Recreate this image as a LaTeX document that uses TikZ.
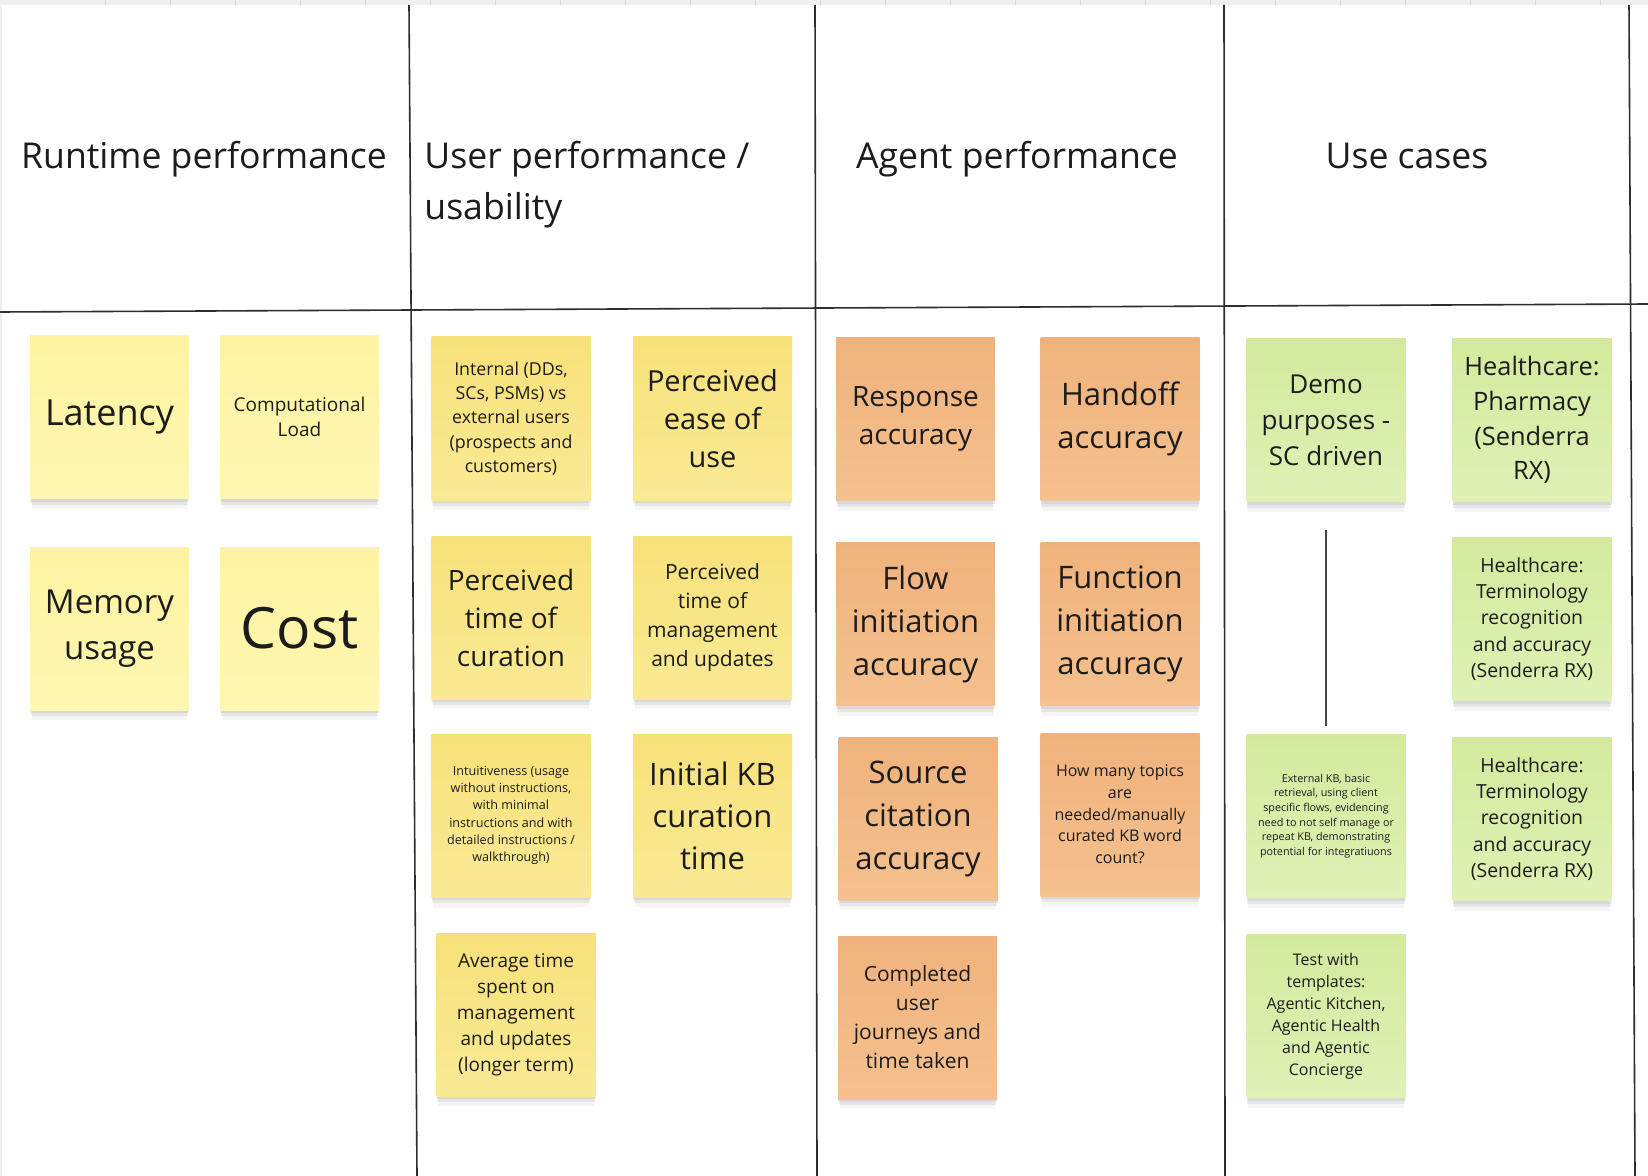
\documentclass[tikz,border=0pt]{standalone}
\usepackage{fontspec}
\setmainfont{Open Sans}
\usepackage{tikz}
\usetikzlibrary{positioning, shadows}
\definecolor{inkdark}{HTML}{1C1C1C}
\definecolor{lanegray}{HTML}{2E2E2E}
\definecolor{linkgray}{HTML}{474747}
\definecolor{stripgray}{HTML}{EFEFEF}
\definecolor{tickgray}{HTML}{D9D9D9}
\definecolor{lemontop}{HTML}{FEF3A2}
\definecolor{lemonbot}{HTML}{FFF7B2}
\definecolor{sunnytop}{HTML}{F7E17A}
\definecolor{sunnybot}{HTML}{FAEA95}
\definecolor{peachtop}{HTML}{EFB27C}
\definecolor{peachbot}{HTML}{F5C18F}
\definecolor{limetop}{HTML}{D3EA9E}
\definecolor{limebot}{HTML}{DFF1B5}
\newcommand{\fs}[2]{\fontsize{#1}{#2}\selectfont}
\tikzset{
  note/.style={
    minimum width=79.5pt, minimum height=81.5pt,
    inner sep=0pt, align=center, text=inkdark,
    drop shadow={fill=black, opacity=0.04, shadow xshift=0pt,
                 shadow yshift=-6pt, shadow scale=0.98},
    drop shadow={fill=black, opacity=0.06, shadow xshift=0pt,
                 shadow yshift=-3.5pt, shadow scale=0.99},
    drop shadow={fill=black, opacity=0.06, shadow xshift=0pt,
                 shadow yshift=-1.5pt},
  },
  lemon/.style={note, top color=lemontop, bottom color=lemonbot},
  sunny/.style={note, top color=sunnytop, bottom color=sunnybot},
  peach/.style={note, top color=peachtop, bottom color=peachbot},
  lime/.style={note, top color=limetop, bottom color=limebot},
  head/.style={font=\fs{17.8pt}{25.5pt}, text=inkdark, inner sep=0pt},
  lane/.style={draw=lanegray, line width=0.8pt},
  link/.style={draw=linkgray, line width=1.1pt},
}
\begin{document}
\begin{tikzpicture}[x=0.5pt, y=-0.5pt]

  \useasboundingbox (0,0) rectangle (1648,1176);
  \fill[white] (0,0) rectangle (1648,1176);

  % frame ruler
  \fill[stripgray] (0,0) rectangle (1648,5);
  \foreach \t in {0,...,24}
    \draw[tickgray, line width=0.5pt] (105+65*\t,0) -- ++(0,5);
  \draw[stripgray, line width=1pt] (1,5) -- (1,1176);

  % lanes
  \draw[lane] (0,312) -- (1648,304);
  \draw[lane] (409,5) -- (417,1176);
  \draw[lane] (815,5) -- (817,1176);
  \draw[lane] (1224,5) -- (1225,1176);
  \draw[lane] (1629,5) -- (1635,1176);

  % headers
  \node[head] (hruntime) at (204,159) {Runtime performance};
  \node[head, anchor=west, align=left] (huser) at (424,184.5)
    {User performance /\\usability};
  \node[head] (hagent) at (1017,159) {Agent performance};
  \node[head] (husecases) at (1407,156) {Use cases};

  % Runtime performance
  \node[lemon, font=\fs{18pt}{24pt}] (latency) at (109.5,417) {Latency};
  \node[lemon, font=\fs{9.5pt}{12.4pt}] (compload) at (299.5,417)
    {Computational\\Load};
  \node[lemon, font=\fs{16.5pt}{22.8pt}] (memory) at (109.5,628.5)
    {Memory\\usage};
  \node[lemon, font=\fs{28.5pt}{34pt}] (cost) at (299.5,628.5) {Cost};

  % User performance / usability
  \node[sunny, font=\fs{8.9pt}{12.15pt}] (internal) at (511,418.5)
    {Internal (DDs,\\SCs, PSMs) vs\\external users\\(prospects and\\customers)};
  \node[sunny, font=\fs{14.5pt}{19pt}] (ease) at (712.5,418.5)
    {Perceived\\ease of\\use};
  \node[sunny, font=\fs{14pt}{19pt}] (curation) at (511,617.5)
    {Perceived\\time of\\curation};
  \node[sunny, font=\fs{10.5pt}{14.5pt}] (mgmt) at (712.5,617.5)
    {Perceived\\time of\\management\\and updates};
  \node[sunny, font=\fs{6.3pt}{8.65pt}] (intuitive) at (511,815.5)
    {Intuitiveness (usage\\without instructions,\\with minimal\\instructions and with\\detailed instructions /\\walkthrough)};
  \node[sunny, font=\fs{15.5pt}{21pt}] (initkb) at (712.5,815.5)
    {Initial KB\\curation\\time};
  \node[sunny, font=\fs{9.5pt}{13pt}] (avgtime) at (516,1014.5)
    {Average time\\spent on\\management\\and updates\\(longer term)};

  % Agent performance
  \node[peach, font=\fs{14pt}{19pt}] (response) at (915.5,419)
    {Response\\accuracy};
  \node[peach, font=\fs{15.5pt}{21.5pt}] (handoff) at (1120,419)
    {Handoff\\accuracy};
  \node[peach, font=\fs{15.5pt}{21.5pt}] (flow) at (915.5,624)
    {Flow\\initiation\\accuracy};
  \node[peach, font=\fs{15.5pt}{21.5pt}] (function) at (1120,624)
    {Function\\initiation\\accuracy};
  \node[peach, font=\fs{15.5pt}{21.5pt}] (citation) at (918,818.5)
    {Source\\citation\\accuracy};
  \node[peach, font=\fs{8pt}{10.85pt}] (topics) at (1120,814.5)
    {How many topics\\are\\needed/manually\\curated KB word\\count?};
  \node[peach, font=\fs{10.5pt}{14.5pt}] (journeys) at (917.5,1017.5)
    {Completed\\user\\journeys and\\time taken};

  % Use cases
  \node[lime, font=\fs{13pt}{18pt}] (demo) at (1326,420)
    {Demo\\purposes -\\SC driven};
  \node[lime, font=\fs{12.7pt}{17.4pt}] (pharmacy) at (1532,420)
    {Healthcare:\\Pharmacy\\(Senderra\\RX)};
  \node[lime, font=\fs{9.7pt}{13.2pt}] (termA) at (1532,619)
    {Healthcare:\\Terminology\\recognition\\and accuracy\\(Senderra RX)};
  \node[lime, font=\fs{5.4pt}{7.35pt}] (extkb) at (1326,816)
    {External KB, basic\\retrieval, using client\\specific flows, evidencing\\need to not self manage or\\repeat KB, demonstrating\\potential for integratiuons};
  \node[lime, font=\fs{9.7pt}{13.2pt}] (termB) at (1532,819)
    {Healthcare:\\Terminology\\recognition\\and accuracy\\(Senderra RX)};
  \node[lime, font=\fs{8pt}{11pt}] (templates) at (1326,1016)
    {Test with\\templates:\\Agentic Kitchen,\\Agentic Health\\and Agentic\\Concierge};

  \draw[link, shorten <=14pt, shorten >=4pt] (demo) -- (extkb);

\end{tikzpicture}
\end{document}
